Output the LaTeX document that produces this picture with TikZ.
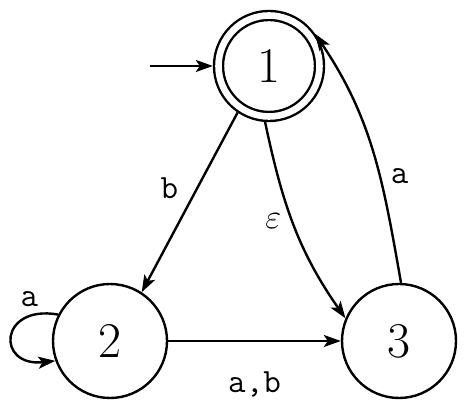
\documentclass[tikz,border=0pt]{standalone}
\usepackage{amssymb}
\usepackage{amsmath}
\usetikzlibrary{arrows.meta}

\begin{document}
\begin{tikzpicture}[
	x=0.5pt,y=0.5pt,
	line width=1.2pt,
	snode/.style={circle,draw,inner sep=0pt,minimum size=57pt,font=\fontsize{25}{30}\selectfont},
	fnode/.style={snode,minimum size=50.5pt,double,double distance=3.3pt,outer sep=2.85pt},
	tedge/.style={draw,-{Stealth[length=8.5pt,width=6pt,inset=2pt]}},
	elabel/.style={inner sep=1pt,font=\fontsize{17}{20}\ttfamily}
	]
	\useasboundingbox (0,0) rectangle (470,415);
	\node[fnode] (s1) at (269,349) {1};
	\node[snode] (s2) at (110,74) {2};
	\node[snode] (s3) at (399,74) {3};
	\coordinate (init) at (150,349);
	\draw[tedge] (init) -- (s1);
	\draw[tedge] (s1.-124) -- node[elabel,pos=0.42,left=8pt] {b} (s2.57);
	\draw[tedge] (s1.-94) to[out=-78,in=125] node[elabel,pos=0.48,left=4pt] {$\varepsilon$} (s3.157);
	\draw[tedge] (s3.88) to[out=100,in=-56] node[elabel,pos=0.4,right=4pt] {a} (s1.35);
	\draw[tedge] (s2) -- node[elabel,midway,below=14pt] {a,b} (s3);
	\draw[tedge] (s2.153) .. controls +(170:60) and +(186:60) .. node[elabel,pos=0.2,above=3pt] {a} (s2.-160);
\end{tikzpicture}
\end{document}
